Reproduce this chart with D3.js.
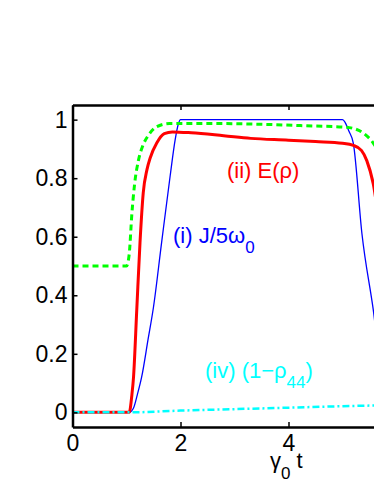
<!DOCTYPE html>
<html>
<head>
<meta charset="utf-8">
<script src="https://cdn.jsdelivr.net/npm/d3@7"></script>
<style>
  html, body { margin: 0; padding: 0; background: #fff; }
  svg { display: block; font-family: "Liberation Sans", Arial, sans-serif; }
</style>
</head>
<body>
<script>
var w = 374;
var h = 484;

// (i) J/5w0 - blue
var tJ = [0, 1.05, 1.13, 1.2, 1.28, 1.4, 1.5, 1.65, 1.81, 1.9, 1.96, 2.0, 5.0, 5.05, 5.12, 5.2, 5.36, 5.57, 5.8, 6];
var vJ = [0, 0, 0.015, 0.06, 0.12, 0.25, 0.36, 0.58, 0.81, 0.93, 0.985, 1.0, 1.0, 0.99, 0.96, 0.92, 0.61, 0.35, 0.02, 0];

// (ii) E(rho) - red
var tE = [0, 1.05, 1.1, 1.13, 1.19, 1.25, 1.31, 1.38, 1.44, 1.56, 1.7, 1.85, 2.2, 2.8, 3.3, 4.0, 4.5, 5.0, 5.2, 5.35, 5.45, 5.57, 5.7, 6];
var vE = [0, 0, 0.06, 0.12, 0.35, 0.58, 0.75, 0.83, 0.87, 0.92, 0.952, 0.958, 0.955, 0.945, 0.936, 0.93, 0.925, 0.919, 0.912, 0.895, 0.86, 0.78, 0.62, 0.3];

// (iii) green dashed
var tG = [0, 1.0, 1.05, 1.1, 1.15, 1.22, 1.3, 1.4, 1.55, 1.8, 2.5, 3.5, 4.5, 5.0, 5.2, 5.4, 5.55, 5.7, 6];
var vG = [0.5, 0.5, 0.54, 0.68, 0.78, 0.86, 0.91, 0.945, 0.975, 0.987, 0.987, 0.984, 0.978, 0.975, 0.97, 0.952, 0.925, 0.88, 0.78];

// (iv) 1 - rho44 - cyan
var tP = [0, 1.05, 2, 3, 4, 5, 6];
var vP = [0, 0, 0.006, 0.011, 0.016, 0.021, 0.025];

var xTicks = [0, 2, 4];
var yTicks = [0, 0.2, 0.4, 0.6, 0.8, 1];

var svg = d3.select("body").append("svg")
    .attr("width", w)
    .attr("height", h);

var x = d3.scaleLinear().domain([0, 6]).range([72.5, 396.5]);
var y = d3.scaleLinear().domain([-0.05, 1.05]).range([427, 105]);

function pts(t, v) {
    return t.map(function(d, i) { return [d, v[i]]; });
}

var line = d3.line()
    .x(function(d) { return x(d[0]); })
    .y(function(d) { return y(d[1]); })
    .curve(d3.curveMonotoneX);

//curves, in plotting order
svg.append("path").datum(pts(tJ, vJ))
    .attr("d", line).attr("fill", "none")
    .attr("stroke", "#0000ff").attr("stroke-width", 1.3);

svg.append("path").datum(pts(tE, vE))
    .attr("d", line).attr("fill", "none")
    .attr("stroke", "#ff0000").attr("stroke-width", 3);

svg.append("path").datum(pts(tG, vG))
    .attr("d", line).attr("fill", "none")
    .attr("stroke", "#00ff00").attr("stroke-width", 3)
    .attr("stroke-dasharray", "6,4");

svg.append("path").datum(pts(tP, vP))
    .attr("d", line).attr("fill", "none")
    .attr("stroke", "#00ffff").attr("stroke-width", 2.5)
    .attr("stroke-dasharray", "7,3,2,3");

//axes
var fs = "23px";
var fmt = function(d) { return d3.format("")(d); };

var gx = svg.append("g")
    .attr("transform", "translate(0," + y.range()[0] + ")")
    .call(d3.axisBottom(x).tickValues(xTicks).tickSize(-5).tickSizeOuter(0).tickPadding(8).tickFormat(fmt));

var gxTop = svg.append("g")
    .attr("transform", "translate(0," + y.range()[1] + ")")
    .call(d3.axisTop(x).tickValues(xTicks).tickSize(-5).tickSizeOuter(0).tickFormat(""));

var gy = svg.append("g")
    .attr("transform", "translate(" + x.range()[0] + ",0)")
    .call(d3.axisLeft(y).tickValues(yTicks).tickSize(-5).tickSizeOuter(0).tickPadding(5).tickFormat(fmt));

[gx, gxTop, gy].forEach(function(g) {
    g.select(".domain").attr("stroke", "#000").attr("stroke-width", 2.5);
    g.selectAll(".tick line").attr("stroke", "#000").attr("stroke-width", 1.5);
    g.selectAll(".tick text").attr("fill", "#000")
        .style("font-size", fs).style("font-family", "\"Liberation Sans\", Arial, sans-serif");
});

//x label
var xl = svg.append("text")
    .attr("x", 270).attr("y", 468)
    .attr("fill", "#000").style("font-size", "22px");
xl.append("tspan").text("\u03b3");
xl.append("tspan").attr("dy", 11).style("font-size", "17px").text("0");
xl.append("tspan").attr("dy", -11).text(" t");

//curve labels
var l1 = svg.append("text").attr("x", 173).attr("y", 243)
    .attr("fill", "#0000ff").style("font-size", "22px");
l1.append("tspan").text("(i) J/5\u03c9");
l1.append("tspan").attr("dy", 10).style("font-size", "17px").text("0");

svg.append("text").attr("x", 227).attr("y", 178)
    .attr("fill", "#ff0000").style("font-size", "22px")
    .text("(ii) E(\u03c1)");

var l4 = svg.append("text").attr("x", 205).attr("y", 378)
    .attr("fill", "#00ffff").style("font-size", "22px");
l4.append("tspan").text("(iv) (1\u2212\u03c1");
l4.append("tspan").attr("dy", 10).style("font-size", "17px").text("44");
l4.append("tspan").attr("dy", -10).text(")");
</script>
</body>
</html>
